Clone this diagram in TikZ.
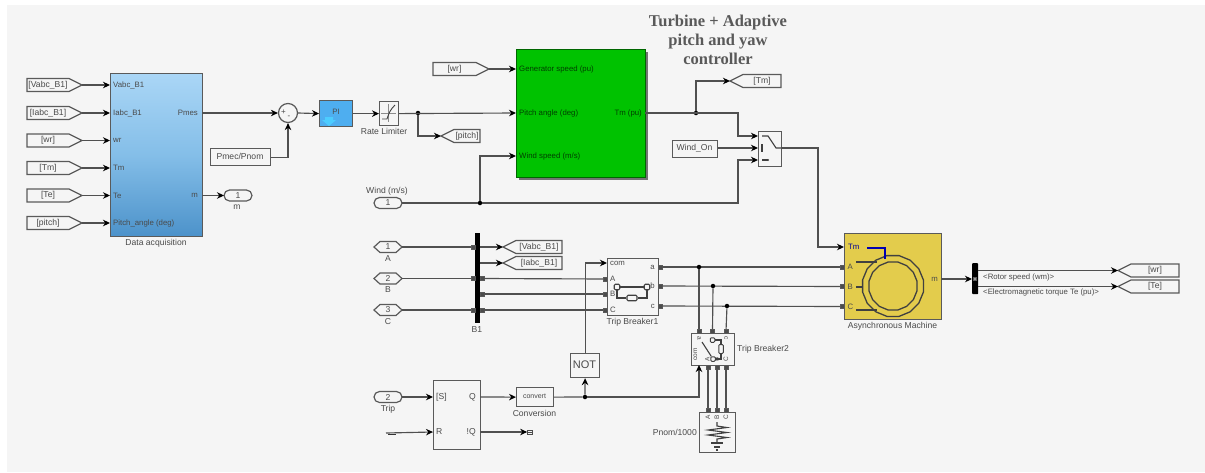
\documentclass[tikz,border=0pt]{standalone}
\usepackage{fontspec}
\setmainfont{Liberation Sans}
\newfontfamily\titlefont{Liberation Serif}
\usetikzlibrary{arrows.meta,shapes.geometric}
\definecolor{bgc}{HTML}{F5F5F5}
\definecolor{linec}{HTML}{505050}
\definecolor{edgec}{HTML}{5A5A5A}
\definecolor{textc}{HTML}{4A4A4A}
\tikzset{
 wire/.style={draw=linec,line width=1.15pt},
 sig/.style={wire,-{Stealth[length=7pt,width=6.5pt,color=black]}},
 blk/.style={draw=edgec,line width=1.2pt,fill=bgc,inner sep=0pt,anchor=north west},
 lbl/.style={text=textc,font=\fontsize{8.6}{10}\selectfont,inner sep=0pt},
 inl/.style={text=textc,font=\fontsize{7.8}{9}\selectfont,inner sep=0pt},
 tagbox/.style={draw=edgec,line width=1.2pt,fill=bgc},
 dot/.style={circle,fill=black,inner sep=0pt,minimum size=4.5pt},
 pport/.style={draw=edgec,fill=black!70,line width=.4pt,inner sep=0pt,minimum size=4pt},
 icon/.style={draw=black!75,line width=1.1pt},
}
% \fromtag{name}{x1}{x2}{y}{text}: points right, tip at x2
\newcommand{\fromtag}[5]{%
 \draw[tagbox] (#2,#4-6.5) -- (#3-13,#4-6.5) -- (#3,#4) -- (#3-13,#4+6.5) -- (#2,#4+6.5) -- cycle;
 \node[lbl] (#1) at ({(#2+#3-13)/2},#4) {#5};
 \coordinate (#1-t) at (#3,#4);}
% \gototag{name}{tip x}{x2}{y}{text}: points left, tip at x1
\newcommand{\gototag}[5]{%
 \draw[tagbox] (#3,#4-6.5) -- (#2+13,#4-6.5) -- (#2,#4) -- (#2+13,#4+6.5) -- (#3,#4+6.5) -- cycle;
 \node[lbl] (#1) at ({(#2+13+#3)/2},#4) {#5};
 \coordinate (#1-t) at (#2,#4);}
% oval port
\newcommand{\ovalport}[5]{%
 \draw[tagbox,rounded corners=5.5pt] (#2,#4-5.5) rectangle (#3,#4+5.5);
 \node[lbl] (#1) at ({(#2+#3)/2},#4) {#5};
 \coordinate (#1-l) at (#2,#4);
 \coordinate (#1-r) at (#3,#4);}
% hexagonal port
\newcommand{\hexport}[5]{%
 \draw[tagbox] (#2,#4) -- (#2+6,#4-5.5) -- (#3-6,#4-5.5) -- (#3,#4) -- (#3-6,#4+5.5) -- (#2+6,#4+5.5) -- cycle;
 \node[lbl] (#1) at ({(#2+#3)/2},#4) {#5};
 \coordinate (#1-r) at (#3,#4);}
\begin{document}
\begin{tikzpicture}[x=1pt,y=-1pt]
\useasboundingbox (0,0) rectangle (1205,472);
\fill[white] (0,0) rectangle (1205,472);
\fill[bgc] (7,5) rectangle (1205,472);

% ---- Title
\node[text=black!65,font=\titlefont\bfseries\fontsize{16.5}{19}\selectfont,align=center,inner sep=0pt] (title) at (718,39.5) {Turbine + Adaptive\\pitch and yaw\\controller};

% ---- Data acquisition
\node[blk,minimum width=92pt,minimum height=163pt,
 top color={rgb,255:red,170;green,214;blue,246},bottom color={rgb,255:red,76;green,146;blue,202},middle color={rgb,255:red,132;green,190;blue,232}] (da) at (110,73) {};
\node[lbl] (dal) at (156,243.5) {Data acquisition};
\foreach \n/\t/\y in {a/Vabc\_B1/85,b/Iabc\_B1/113,c/wr/140.5,d/Tm/168,e/Te/195.5,f/Pitch\_angle (deg)/223}{
 \node[inl,anchor=west] (da\n) at (113,\y) {\t};
 \coordinate (dai\n) at (110,\y);
}
\node[inl,anchor=east] (dap) at (198,113) {Pmes};
\node[inl,anchor=east] (dam) at (198,195.5) {m};
\coordinate (dao1) at (202,113);
\coordinate (dao2) at (202,195.5);
\fromtag{fa}{27}{82}{85}{[Vabc\_B1]}
\fromtag{fb}{27}{82}{113}{[Iabc\_B1]}
\fromtag{fc}{27}{82}{140.5}{[wr]}
\fromtag{fd}{27}{82}{168}{[Tm]}
\fromtag{fe}{27}{82}{195.5}{[Te]}
\fromtag{ff}{27}{82}{223}{[pitch]}
\foreach \n in {a,b,c,d,e,f}{\draw[sig] (f\n-t) -- (dai\n);}

% ---- m outport
\ovalport{mout}{224}{252}{195.5}{1}
\node[lbl] (moutl) at (237,207) {m};
\draw[sig] (dao2) -- (mout-l);

% ---- Sum, PI, Rate limiter
\node[draw=edgec,line width=1.2pt,fill=bgc,circle,minimum size=19pt,inner sep=0pt] (sum) at (288,113) {};
\node[inl,font=\fontsize{8}{9}\selectfont] (sump) at (283.5,112) {+};
\node[inl,font=\fontsize{8}{9}\selectfont] (summ) at (289,117) {-};
\draw[sig] (dao1) -- (sum.west);
\node[blk,fill={rgb,255:red,78;green,174;blue,240},minimum width=33pt,minimum height=26pt] (pi) at (319,100) {};
\node[inl,text=black!70] (pil) at (336,112) {PI};
\fill[white!60!blue!50!cyan] (325,117) -- (333,117) -- (333,120) -- (336,120) -- (329,126) -- (322,120) -- (325,120) -- cycle;
\draw[sig] (sum.east) -- (pi.west);
\node[blk,minimum width=19pt,minimum height=24pt] (rl) at (379,101) {};
\draw[line width=.6pt,draw=black!45] (381,113) -- (396,113) (388.5,104) -- (388.5,122);
\draw[icon,line width=.9pt] (382,119) -- (387,119) .. controls (389,113) and (390,110) .. (395,105);
\node[lbl] (rll) at (384,131.5) {Rate Limiter};
\draw[sig] (pi.east) -- (rl.west);
\node[blk,minimum width=60pt,minimum height=17pt] (pmec) at (210,148) {};
\node[lbl] (pmecl) at (240,156.5) {Pmec/Pnom};
\draw[sig] (pmec.east) -| (sum.south);

% ---- Turbine block
\fill[black!55] (519,52) rectangle (648,180);
\node[blk,fill={rgb,255:red,0;green,194;blue,0},draw=black!60!green,minimum width=129pt,minimum height=128pt] (tb) at (516,49) {};
\node[inl,anchor=west,text=black!75!green] (tb1) at (519,69) {Generator speed (pu)};
\node[inl,anchor=west,text=black!75!green] (tb2) at (519,113) {Pitch angle (deg)};
\node[inl,anchor=west,text=black!75!green] (tb3) at (519,156) {Wind speed (m/s)};
\node[inl,anchor=east,text=black!75!green] (tb4) at (642,113) {Tm (pu)};
\coordinate (tbi1) at (516,69);
\coordinate (tbi2) at (516,113);
\coordinate (tbi3) at (516,156);
\coordinate (tbo) at (645,113);
\fromtag{fwr}{433}{489}{69}{[wr]}
\draw[sig] (fwr-t) -- (tbi1);
\node[dot] (j1) at (418,113) {};
\draw[sig] (rl.east) -- (tbi2);
\gototag{gp}{441}{480}{136}{[pitch]}
\draw[sig] (j1) |- (gp-t);
\gototag{gtm}{730}{781}{81}{[Tm]}
\node[dot] (j2) at (696,113) {};
\draw[sig] (j2) |- (gtm-t);

% ---- Switch
\node[blk,minimum width=23pt,minimum height=35pt] (sw) at (758,131) {};
\coordinate (swi1) at (758,136);
\coordinate (swi2) at (758,148);
\coordinate (swi3) at (758,160);
\coordinate (swo) at (781,148);
\draw[icon] (762,136) -- (768,136) -- (776,148) -- (781,148);
\draw[icon,line width=1.2pt] (762,144) -- (762,152);
\draw[icon] (762,160) -- (768,160);
\fill[black!75] (768,160) circle (1.2pt);
\draw[sig] (tbo) -- (738,113) |- (swi1);
\node[blk,minimum width=45pt,minimum height=17pt] (won) at (672,140) {};
\node[lbl] (wonl) at (694.5,148.5) {Wind\_On};
\draw[sig] (won.east |- swi2) -- (swi2);
\ovalport{wind}{374}{402}{203}{1}
\node[lbl] (windl) at (387,191) {Wind (m/s)};
\node[dot] (j3) at (480,203) {};
\draw[wire] (wind-r) -- (j3);
\draw[sig] (j3) |- (tbi3);
\draw[sig] (j3) -- (738,203) |- (swi3);

% ---- Asynchronous machine
\node[blk,fill={rgb,255:red,227;green,204;blue,76},minimum width=97pt,minimum height=86pt] (am) at (844,233) {};
\node[lbl] (aml) at (892.5,326) {Asynchronous Machine};
\node[regular polygon,regular polygon sides=16,draw=black!75,line width=1.3pt,minimum size=62pt,inner sep=0pt] (rot1) at (893,286) {};
\node[regular polygon,regular polygon sides=16,draw=black!75,line width=1.3pt,minimum size=49pt,inner sep=0pt] (rot2) at (893,286) {};
\draw[icon] (856,262) -- (877,262) (856,287) -- (862,287) (856,310) -- (877,310);
\draw[draw=blue!70!black,line width=1.1pt] (867,248) -- (885,248) -- (885,259);
\node[inl,anchor=west,text=blue!60!black] (amt) at (848,247) {Tm};
\node[inl,anchor=west] (ama) at (847.5,267) {A};
\node[inl,anchor=west] (amb) at (847.5,286.5) {B};
\node[inl,anchor=west] (amc) at (847.5,306.5) {C};
\node[inl,anchor=east] (amm) at (938,279) {m};
\coordinate (amtm) at (844,247);
\coordinate (ama2) at (844,267);
\coordinate (amb2) at (844,286.5);
\coordinate (amc2) at (844,306.5);
\coordinate (amo) at (941,279);
\coordinate (swup) at (818,148);
\draw[sig] (swo) -- (swup) |- (amtm);

% ---- Bus selector
\node[fill=black,rounded corners=.8pt,minimum width=6pt,minimum height=31pt,inner sep=0pt,anchor=north west] (dm) at (972,263) {};
\coordinate (dmi) at (972,279);
\draw[sig] (amo) -- (dmi);
\node[pport,fill=black!40,minimum size=3pt] (dmp) at (975,279) {};
\gototag{gwr}{1118}{1179}{270.5}{[wr]}
\gototag{gte}{1118}{1179}{286.5}{[Te]}
\draw[sig] (dm.east |- gwr-t) -- (gwr-t);
\draw[sig] (dm.east |- gte-t) -- (gte-t);
\node[lbl,anchor=west,font=\fontsize{7.8}{9}\selectfont] (rs) at (983,277) {<Rotor speed (wm)>};
\node[lbl,anchor=west,font=\fontsize{7.8}{9}\selectfont] (et) at (983,292.5) {<Electromagnetic torque Te (pu)>};

% ---- Three-phase ports and bus
\hexport{pa}{374}{402}{247}{1}
\hexport{pb}{374}{402}{278.5}{2}
\hexport{pc}{374}{402}{310}{3}
\node[lbl] (pal) at (388,259) {A};
\node[lbl] (pbl) at (388,290) {B};
\node[lbl] (pcl) at (388,322) {C};
\node[fill=black,minimum width=5.5pt,minimum height=90pt,inner sep=0pt,anchor=north west] (bus) at (474.5,233) {};
\node[lbl] (busl) at (477,330) {B1};
\gototag{gv}{503}{562}{247}{[Vabc\_B1]}
\gototag{gi}{503}{562}{263}{[Iabc\_B1]}
\draw[sig] (bus.east |- gv-t) -- (gv-t);
\draw[sig] (bus.east |- gi-t) -- (gi-t);
\draw[wire] (pa-r) -- (bus.west |- pa-r);
\draw[wire] (pb-r) -- (bus.west |- pb-r);
\draw[wire] (pc-r) -- (bus.west |- pc-r);
\node[pport] (ba) at (473,247) {};
\node[pport] (bb) at (473,278.5) {};
\node[pport] (bc) at (473,310) {};
\node[pport] (bb2) at (482,278.5) {};
\node[pport] (bb3) at (482,294) {};
\node[pport] (bc2) at (482,310) {};

% ---- Trip Breaker1
\node[blk,minimum width=51pt,minimum height=57pt] (tb1b) at (607,258) {};
\node[lbl] (tb1l) at (632.5,322) {Trip Breaker1};
\node[inl,anchor=west] (t1com) at (610,263) {com};
\node[inl,anchor=west] (t1a) at (610,279) {A};
\node[inl,anchor=west] (t1b) at (610,294) {B};
\node[inl,anchor=west] (t1c) at (610,310) {C};
\node[inl,anchor=east] (t1oa) at (655,267) {a};
\node[inl,anchor=east] (t1ob) at (655,286) {b};
\node[inl,anchor=east] (t1oc) at (655,306) {c};
\node[draw=black!75,line width=1.1pt,fill=bgc,rounded corners=1.2pt,minimum size=5.5pt,inner sep=0pt] (s1) at (617,287) {};
\node[draw=black!75,line width=1.1pt,fill=bgc,rounded corners=1.2pt,minimum size=5.5pt,inner sep=0pt] (s2) at (647,287) {};
\node[draw=black!75,line width=1.1pt,fill=bgc,rounded corners=1.2pt,minimum width=10pt,minimum height=5.5pt,inner sep=0pt] (r1) at (632,298) {};
\draw[icon] (s1) -- (s2);
\draw[icon] (s1.south) |- (r1.west);
\draw[icon] (r1.east) -| (s2.south);
\coordinate (t1ia) at (607,279);
\coordinate (t1ib) at (607,294);
\coordinate (t1ic) at (607,310);
\coordinate (t1icom) at (607,263);
\draw[wire] (bb2) -- (t1ia);
\draw[wire] (bb3) -- (t1ib);
\draw[wire] (bc2) -- (t1ic);
\node[pport] (p1a) at (605,279) {};
\node[pport] (p1b) at (605,294) {};
\node[pport] (p1c) at (605,310) {};
\node[pport] (o1a) at (660,267) {};
\node[pport] (o1b) at (660,286) {};
\node[pport] (o1c) at (660,306) {};
\draw[wire] (o1a) -- (ama2);
\draw[wire] (o1b) -- (amb2);
\draw[wire] (o1c) -- (amc2);
\node[pport] (ama3) at (842,267) {};
\node[pport] (amb3) at (842,286.5) {};
\node[pport] (amc3) at (842,306.5) {};

% ---- Trip Breaker2
\node[blk,minimum width=43pt,minimum height=32pt] (tb2b) at (691,333) {};
\node[lbl,anchor=west] (tb2l) at (737,349.5) {Trip Breaker2};
\node[dot] (ja) at (699,267) {};
\node[dot] (jb) at (713,286) {};
\node[dot] (jc) at (727,306) {};
\node[pport] (t2a) at (699,331) {};
\node[pport] (t2b) at (712.5,331) {};
\node[pport] (t2c) at (726,331) {};
\draw[wire] (ja) -- (t2a);
\draw[wire] (jb) -- (t2b);
\draw[wire] (jc) -- (t2c);
\node[inl,rotate=-90,font=\fontsize{6.5}{7}\selectfont] (t2la) at (699,338) {a};
\node[inl,rotate=-90,font=\fontsize{6.5}{7}\selectfont] (t2lc) at (726,338) {c};
\node[inl,rotate=90,font=\fontsize{6.5}{7}\selectfont] (t2com) at (695.5,354.5) {com};
\node[inl,rotate=90,font=\fontsize{6.5}{7}\selectfont] (t2lA) at (707.5,359) {A};
\node[inl,rotate=90,font=\fontsize{6.5}{7}\selectfont] (t2lB) at (716.5,359) {B};
\node[inl,rotate=90,font=\fontsize{6.5}{7}\selectfont] (t2lC) at (726,359) {C};
\node[draw=black!75,line width=1pt,fill=bgc,rounded corners=1pt,minimum size=4.5pt,inner sep=0pt] (s3) at (712.5,340) {};
\node[draw=black!75,line width=1pt,fill=bgc,rounded corners=1pt,minimum size=4.5pt,inner sep=0pt] (s4) at (713,359) {};
\node[draw=black!75,line width=1pt,fill=bgc,rounded corners=1pt,minimum width=4.5pt,minimum height=9pt,inner sep=0pt] (r2) at (721,349) {};
\draw[icon] (702,342) -- (s4);
\draw[icon] (s3.east) -| (r2.north);
\draw[icon] (r2.south) |- (s4.east);
% ---- Load
\node[blk,minimum width=36pt,minimum height=40pt] (load) at (699,412) {};
\node[lbl,anchor=east] (loadl) at (697,432) {Pnom/1000};
\node[inl,rotate=90,font=\fontsize{6.5}{7}\selectfont] (l1) at (708,417.5) {A};
\node[inl,rotate=90,font=\fontsize{6.5}{7}\selectfont] (l2) at (717,417.5) {B};
\node[inl,rotate=90,font=\fontsize{6.5}{7}\selectfont] (l3) at (726,417.5) {C};
\draw[icon] (717,422) -- (717,426) -- (727,427.5) -- (708,430) -- (727,432.5) -- (708,435) -- (727,437.5) -- (717,439) -- (717,443);
\draw[icon] (711,443) -- (723,443) (714,447) -- (720,447) (716,450) -- (718,450);
\foreach \n/\x in {a/708,b/717,c/726}{
 \node[pport] (tb\n) at (\x,367) {};
 \node[pport] (lo\n) at (\x,410) {};
 \draw[wire,line width=1.2pt] (tb\n) -- (lo\n);
}

% ---- NOT / SR / Conversion
\node[blk,minimum width=29pt,minimum height=24pt] (not) at (570,353) {};
\node[text=textc,font=\fontsize{11}{12}\selectfont,inner sep=0pt] (notl) at (584.5,365) {NOT};
\draw[sig] (not.north) |- (t1icom);
\node[blk,minimum width=47pt,minimum height=69pt] (sr) at (433,380) {};
\node[lbl,anchor=west] (srs) at (436,397) {[S]};
\node[lbl,anchor=west] (srr) at (436,432) {R};
\node[lbl,anchor=east] (srq) at (476,397) {Q};
\node[lbl,anchor=east] (srnq) at (476,432) {!Q};
\coordinate (sri1) at (433,397);
\coordinate (sri2) at (433,432);
\coordinate (sro1) at (480,397);
\coordinate (sro2) at (480,432);
\ovalport{trip}{374}{402}{397}{2}
\node[lbl] (tripl) at (388,409) {Trip};
\draw[sig] (trip-r) -- (sri1);
\coordinate (gnd) at (386,433);
\draw[sig] (gnd) -- (sri2);
\draw[line width=1.5pt,black!80] (388,434.5) -- (396,434.5);
\node[blk,minimum width=37pt,minimum height=19pt] (conv) at (516,387) {};
\node[inl,font=\fontsize{7}{8}\selectfont] (convl) at (534.5,396.5) {convert};
\node[lbl] (convn) at (534.5,413) {Conversion};
\draw[sig] (sro1) -- (conv.west);
\node[dot] (j4) at (585,397) {};
\draw[wire] (conv.east) -- (j4);
\draw[sig] (j4) -- (not.south);
\coordinate (t2com2) at (699,365);
\draw[sig] (j4) -| (t2com2);
\node[inl,draw=black!70,line width=.7pt,minimum width=5pt,minimum height=4pt] (term) at (530,432) {};
\draw[black!70,line width=.7pt] (term.west) -- (term.east);
\draw[sig] (sro2) -- (term.west);
\end{tikzpicture}
\end{document}
